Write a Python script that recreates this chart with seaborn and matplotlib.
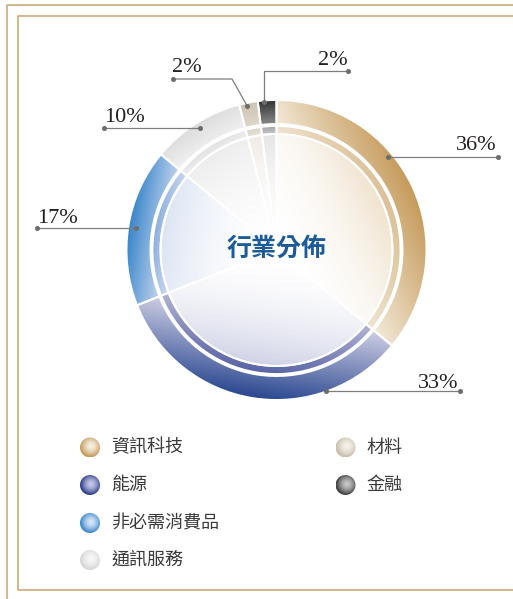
import numpy as np
import matplotlib
matplotlib.use('Agg')
import matplotlib.pyplot as plt
from matplotlib.patches import Circle
import seaborn as sns

# data
sectors = ['資訊科技', '能源', '非必需消費品', '通訊服務', '材料', '金融']
shares = [36, 33, 17, 10, 2, 2]
pct_labels = ['36%', '33%', '17%', '10%', '2%', '2%']
center_title = '行業分佈'

# colours per sector (light / dark ends of the gradients)
ring_light = ['#f3e9d8', '#cfcfe4', '#c3d5ee', '#f2f2f2', '#e0d8cc', '#8c8c8c']
ring_dark = ['#c59a5a', '#2a4790', '#3a86ca', '#dcdcdc', '#cdc3b1', '#333333']
band_light = ['#f0e4d0', '#b4b4d4', '#cfdcf0', '#f0f0f0', '#e8e2d8', '#c8c8c8']
band_dark = ['#dcc197', '#5964a6', '#8db0de', '#e2e2e2', '#ddd5c8', '#a8a8a8']
inner_pale = ['#f0e3cf', '#d0d3e6', '#dce5f3', '#ededed', '#f0ece6', '#e6e6e6']
legend_edge = ['#c59d60', '#2e3f8a', '#3d88cc', '#d6d6d6', '#cbc0ac', '#444444']
legend_core = ['#f8f0e4', '#c8c8e8', '#d8e8f8', '#f8f8f8', '#f5f2ec', '#c8c8c8']

sns.set_theme(style='white')
plt.rcParams['font.family'] = ['Noto Sans CJK TC', 'DejaVu Sans']

W, H = 513, 599
CX, CY, R = 276.5, 250, 150


def P(px, py):
    return (px - CX) / R, (CY - py) / R


fig = plt.figure(figsize=(W / 100, H / 100), dpi=100)
ax = fig.add_axes([0, 0, 1, 1])

n = 500
g = np.linspace(-1, 1, n)
X, Y = np.meshgrid(g, g)

##DONUT LAYERS: outer ring, thin band, inner disc
layers = [
    (1.0, 0.16, ring_light, ring_dark, 1.0),
    (0.827, 0.054, band_light, band_dark, 1.0),
    (0.773, None, ['#ffffff'] * 6, inner_pale, 1.9),
]
for r_out, width, lights, darks, gamma in layers:
    wp = dict(edgecolor='white', linewidth=1.4, facecolor='none')
    if width:
        wp['width'] = width
    wedges, _ = ax.pie(shares, radius=r_out, startangle=90, counterclock=False, wedgeprops=wp)
    r_in = r_out - width if width else 0
    for i, w in enumerate(wedges):
        w.set_zorder(3)
        mid = np.deg2rad((w.theta1 + w.theta2) / 2)
        half = np.deg2rad((w.theta2 - w.theta1) / 2)
        p = X * np.cos(mid) + Y * np.sin(mid)
        lo = r_in * np.cos(half)
        t = np.clip((p - lo) / (r_out - lo), 0, 1) ** gamma
        cmap = sns.blend_palette([lights[i], darks[i]], as_cmap=True)
        im = ax.imshow(t, cmap=cmap, vmin=0, vmax=1, extent=(-1, 1, -1, 1),
                       origin='lower', interpolation='bilinear', zorder=2)
        im.set_clip_path(w)

ax.text(*P(CX, 249), center_title, ha='center', va='center', fontsize=18,
        fontweight='bold', color='#1d5b98', zorder=5)

##PERCENT LABELS AND LEADERS
anchor_ang = [50.3, 160.5, 279, 328, 348.5, 355.2]
anchor_r = [0.967, 0.995, 0.95, 0.96, 0.98, 0.99]
leader_pts = [[(498, 157)], [(460, 393)], [(37, 228)], [(104, 128)],
              [(232, 79), (173, 79)], [(264, 71), (348, 71)]]
text_pos = [(497, 150, 'right'), (458, 388, 'right'), (37, 223, 'left'),
            (104, 122, 'left'), (172, 72, 'left'), (348, 65, 'right')]

for i in range(len(shares)):
    a = np.deg2rad(anchor_ang[i])
    ax0 = anchor_r[i] * np.sin(a)
    ay0 = anchor_r[i] * np.cos(a)
    pts = leader_pts[i]
    if len(pts) == 1:
        end = P(*pts[0])
        xs = [ax0, end[0]]
        ys = [ay0, ay0]
    else:
        elbow = P(*pts[0])
        end = P(*pts[1])
        if abs(elbow[0] - ax0) < 0.01:
            elbow = (ax0, elbow[1])
        xs = [ax0, elbow[0], end[0]]
        ys = [ay0, elbow[1], elbow[1]]
    ax.plot(xs, ys, color='#7d7d7d', lw=0.9, zorder=6, clip_on=False)
    ax.plot([xs[0], xs[-1]], [ys[0], ys[-1]], 'o', color='#6d6d6d', ms=2.6,
            zorder=7, clip_on=False, linestyle='none')
    tx, ty, ha = text_pos[i]
    ax.text(*P(tx, ty), pct_labels[i], ha=ha, va='baseline', fontsize=16,
            family='Liberation Serif', color='#231f20', zorder=7)

##LEGEND
leg_pos = [(90, 447.5), (90, 485), (90, 523), (90, 560), (345.5, 447.5), (345.5, 485)]
mr = 10 / R
gm = np.linspace(-1, 1, 80)
MX, MY = np.meshgrid(gm, gm)
dist = np.clip(np.sqrt((MX - 0.1) ** 2 + (MY - 0.1) ** 2) / 1.05, 0, 1) ** 1.6
for i, name in enumerate(sectors):
    cx, cy = P(*leg_pos[i])
    circ = Circle((cx, cy), mr, facecolor='none', edgecolor='none', zorder=3)
    ax.add_patch(circ)
    cmap = sns.blend_palette([legend_core[i], legend_edge[i]], as_cmap=True)
    im = ax.imshow(dist, cmap=cmap, vmin=0, vmax=1,
                   extent=(cx - mr, cx + mr, cy - mr, cy + mr),
                   origin='lower', interpolation='bilinear', zorder=2)
    im.set_clip_path(circ)
    tx, ty = P(leg_pos[i][0] + 21, leg_pos[i][1])
    ax.text(tx, ty, name, ha='left', va='center', fontsize=13, color='#3a3a3a')

##FRAME
gold = '#c9a46c'
frame = [[(7, 599), (7, 5), (513, 5)],
         [(513, 16), (18, 16), (18, 590), (513, 590)]]
for path in frame:
    fx, fy = zip(*[P(*q) for q in path])
    ax.plot(fx, fy, color=gold, lw=1.1, clip_on=False, zorder=1)

ax.set_xlim(-CX / R, (W - CX) / R)
ax.set_ylim(-(H - CY) / R, CY / R)
ax.set_aspect('equal')
ax.axis('off')

fig.savefig('out.png', dpi=100, facecolor='white')
